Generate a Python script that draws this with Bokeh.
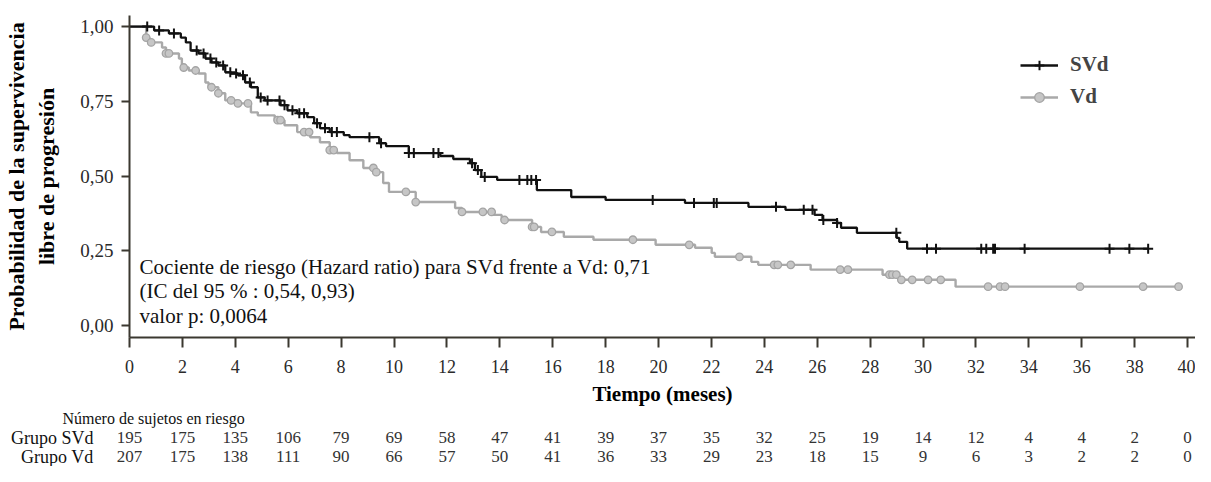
from bokeh.plotting import figure
from bokeh.layouts import column
from bokeh.models import (Legend, LegendItem, Label, ColumnDataSource,
                          FixedTicker, CustomJSTickFormatter, Range1d)
from bokeh.core.properties import value
from bokeh.embed import file_html
from bokeh.resources import INLINE
import numpy as np

# ---------------- data ----------------
months_ticks = list(range(0, 41, 2))

svd_t = [0, 0.93, 1.49, 1.94, 2.13, 2.31, 2.61, 2.87, 3.10, 3.36, 3.62, 3.84, 4.10, 4.37, 4.59,
         4.85, 5.11, 5.71, 5.97, 6.34, 6.72, 6.98, 7.20, 7.57, 8.10, 8.32, 9.44, 9.70, 10.56,
         11.75, 12.24, 12.87, 13.06, 13.30, 13.90, 15.40, 16.70, 18.00, 21.00, 23.40, 24.80,
         25.90, 26.20, 26.75, 26.90, 27.50, 29.00, 29.10, 29.40]
svd_s = [1.0, 0.987, 0.977, 0.963, 0.947, 0.92, 0.91, 0.893, 0.88, 0.87, 0.847, 0.843, 0.837,
         0.813, 0.797, 0.763, 0.753, 0.737, 0.72, 0.71, 0.697, 0.677, 0.66, 0.647, 0.637, 0.63,
         0.61, 0.60, 0.577, 0.567, 0.557, 0.543, 0.52, 0.497, 0.487, 0.453, 0.43, 0.42, 0.41,
         0.397, 0.387, 0.37, 0.353, 0.343, 0.327, 0.31, 0.293, 0.28, 0.257]
svd_end = 38.5
svd_cens = [0.67, 1.12, 1.68, 2.54, 2.80, 3.06, 3.28, 3.54, 3.81, 4.03, 4.29, 4.55, 4.96, 5.22,
            5.67, 5.86, 6.16, 6.42, 6.60, 7.09, 7.39, 7.65, 7.84, 9.07, 9.51, 10.56, 10.75,
            11.49, 11.68, 12.95, 13.17, 13.43, 14.74, 15.04, 15.19, 15.37, 19.78, 21.34, 22.09,
            22.20, 24.44, 25.49, 25.82, 26.23, 26.75, 28.99, 30.15, 30.49, 32.20, 32.39, 32.65,
            32.72, 33.84, 37.05, 37.80, 38.51]

vd_t = [0, 0.63, 0.75, 1.23, 1.38, 1.87, 1.98, 2.24, 2.61, 2.87, 2.99, 3.36, 3.62, 4.10, 4.59,
        4.85, 5.49, 5.86, 6.34, 6.83, 7.20, 7.57, 7.84, 8.32, 8.84, 9.33, 9.59, 9.81, 10.82,
        12.31, 12.57, 13.70, 14.07, 15.22, 15.56, 16.42, 17.54, 19.89, 21.38, 22.01, 22.13,
        23.51, 23.77, 25.75, 28.47, 29.10, 31.23]
vd_s = [1.0, 0.963, 0.947, 0.93, 0.91, 0.893, 0.863, 0.853, 0.843, 0.813, 0.797, 0.777, 0.753,
        0.743, 0.713, 0.703, 0.687, 0.67, 0.647, 0.63, 0.613, 0.587, 0.577, 0.553, 0.527, 0.513,
        0.477, 0.447, 0.413, 0.393, 0.38, 0.37, 0.353, 0.33, 0.313, 0.297, 0.287, 0.27, 0.26,
        0.243, 0.23, 0.213, 0.203, 0.187, 0.17, 0.153, 0.13]
vd_end = 39.66
vd_cens = [0.63, 0.82, 1.38, 1.49, 2.05, 2.50, 3.10, 3.36, 3.84, 4.10, 4.48, 5.60, 5.71, 6.60,
           6.79, 7.57, 7.72, 9.22, 9.33, 10.45, 10.82, 12.57, 13.36, 13.69, 14.18, 15.22, 15.30,
           15.97, 19.03, 21.16, 23.06, 24.37, 24.51, 25.00, 26.87, 27.16, 28.73, 28.84, 28.99,
           29.18, 29.59, 30.19, 30.67, 32.46, 32.91, 33.10, 35.93, 38.32, 39.66]

risk_svd = [195, 175, 135, 106, 79, 69, 58, 47, 41, 39, 37, 35, 32, 25, 19, 14, 12, 4, 4, 2, 0]
risk_vd = [207, 175, 138, 111, 90, 66, 57, 50, 41, 36, 33, 29, 23, 18, 15, 9, 6, 3, 2, 2, 0]
risk_groups = ["Grupo SVd", "Grupo Vd"]
risk_title = "Número de sujetos en riesgo"

ann_lines = ["Cociente de riesgo (Hazard ratio) para SVd frente a Vd: 0,71",
             "(IC del 95 % : 0,54, 0,93)",
             "valor p: 0,0064"]

# ---------------- layout constants ----------------
W = 1195
LEFT = 129
X_END = 40.3
TOP_H = 408
BOT_H = 466 - TOP_H
SERIF = "Liberation Serif"
AX = "#3b3830"


def step_at(t, s, c):
    t = np.asarray(t)
    s = np.asarray(s)
    idx = np.searchsorted(t, np.asarray(c), side="right") - 1
    return s[idx]


p = figure(width=W, height=TOP_H, output_backend="svg", toolbar_location=None,
           x_range=Range1d(0, X_END), y_range=Range1d(-0.04, 1.037),
           min_border_left=LEFT, min_border_right=0, min_border_top=15,
           min_border_bottom=TOP_H - 337)
p.frame_align = False
p.outline_line_color = None
p.grid.visible = False

p.xaxis.ticker = FixedTicker(ticks=months_ticks)
p.yaxis.ticker = FixedTicker(ticks=[0, 0.25, 0.5, 0.75, 1.0])
p.yaxis.formatter = CustomJSTickFormatter(code="return tick.toFixed(2).replace('.', ',');")
for ax in (p.xaxis, p.yaxis):
    ax.axis_line_color = AX
    ax.axis_line_width = 2
    ax.major_tick_line_color = AX
    ax.major_tick_line_width = 2
    ax.minor_tick_line_color = None
    ax.major_tick_in = 0
    ax.major_label_text_font = SERIF
    ax.major_label_text_color = "#2a2a2a"
    ax.axis_label_text_font = SERIF
    ax.axis_label_text_font_style = "bold"
    ax.axis_label_text_color = "#000000"
p.xaxis.major_tick_out = 10
p.yaxis.major_tick_out = 8
p.xaxis.major_label_text_font_size = "18px"
p.yaxis.major_label_text_font_size = "19px"
p.xaxis.major_label_standoff = 12
p.yaxis.major_label_standoff = 8
p.xaxis.axis_label = "Tiempo (meses)"
p.xaxis.axis_label_text_font_size = "21px"
p.xaxis.axis_label_standoff = 6
p.yaxis.axis_label = "Probabilidad de la supervivencia\nlibre de progresión"
p.yaxis.axis_label_text_font_size = "22px"
p.yaxis.axis_label_standoff = 18

vd_line = p.step(vd_t + [vd_end], vd_s + [vd_s[-1]], mode="after",
                 line_color="#a9a9a9", line_width=2.4)
vd_pts = p.scatter(vd_cens, step_at(vd_t, vd_s, vd_cens), marker="circle", size=7.5,
                   fill_color="#c6c6c6", line_color="#a4a4a4", line_width=1.3)
svd_line = p.step(svd_t + [svd_end], svd_s + [svd_s[-1]], mode="after",
                  line_color="#111111", line_width=2.3)
svd_pts = p.scatter(svd_cens, step_at(svd_t, svd_s, svd_cens), marker="cross", size=10,
                    line_color="#111111", line_width=2)

legend = Legend(items=[LegendItem(label="SVd", renderers=[svd_line, svd_pts]),
                       LegendItem(label="Vd", renderers=[vd_line, vd_pts])],
                location=(891, 228), border_line_color=None, background_fill_alpha=0,
                label_text_font=SERIF, label_text_font_style="bold", label_text_font_size="21px",
                glyph_width=38, glyph_height=24, label_height=24, label_standoff=12,
                padding=0, margin=0, spacing=7)
p.add_layout(legend, "center")

for txt, yy in zip(ann_lines, [0.197, 0.117, 0.033]):
    p.add_layout(Label(x=0.38, y=yy, text=txt, text_font=SERIF, text_font_size="21px",
                       text_baseline="middle", text_color="#111111"))

# ---------------- risk table ----------------
scale = (W - LEFT) / X_END
t = figure(width=W, height=BOT_H, output_backend="svg", toolbar_location=None,
           x_range=Range1d(-LEFT / scale, X_END), y_range=Range1d(0, BOT_H),
           x_axis_type=None, y_axis_type=None,
           min_border_left=0, min_border_right=0, min_border_top=0, min_border_bottom=0)
t.frame_align = False
t.outline_line_color = None
t.grid.visible = False

head_y = BOT_H - 10
row_y = [BOT_H - 29, BOT_H - 48]
t.text(x=[(62 - LEFT) / scale], y=[head_y], text=[risk_title], text_font=value(SERIF),
       text_font_size="16px", text_baseline="middle", text_align="left", text_color="#111111")
t.text(x=[(93 - LEFT) / scale] * 2, y=row_y, text=risk_groups, text_font=value(SERIF),
       text_font_size="18px", text_baseline="middle", text_align="right", text_color="#111111")
src = ColumnDataSource(dict(x=months_ticks + months_ticks,
                            y=[row_y[0]] * len(risk_svd) + [row_y[1]] * len(risk_vd),
                            t=[str(v) for v in risk_svd] + [str(v) for v in risk_vd]))
t.text(x="x", y="y", text="t", source=src, text_font=value(SERIF), text_font_size="17px",
       text_align="center", text_baseline="middle", text_color="#333333")

layout = column(p, t, spacing=0)
open("out.html", "w").write(file_html(layout, INLINE))
